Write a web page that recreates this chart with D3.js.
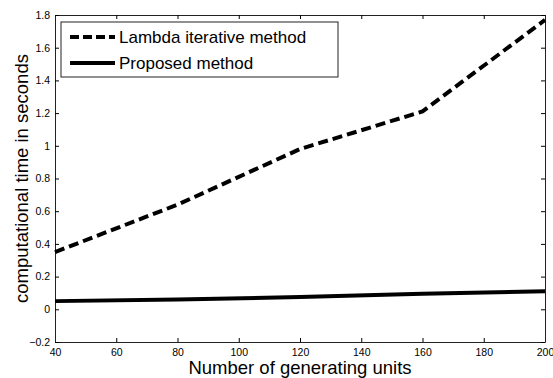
<!DOCTYPE html>
<html>
<head>
<meta charset="utf-8">
<script src="https://cdn.jsdelivr.net/npm/d3@7"></script>
<style>
  body { margin: 0; background: #fff; }
  svg { font-family: "Liberation Sans", Arial, sans-serif; }
</style>
</head>
<body>
<div id="chart"></div>
<script>
// data
const units = [40, 80, 120, 160, 200];
const lambdaTime = [0.35, 0.64, 0.98, 1.21, 1.77];
const proposedTime = [0.05, 0.06, 0.075, 0.095, 0.11];
const xTicks = [40, 60, 80, 100, 120, 140, 160, 180, 200];
const yTicks = [-0.2, 0, 0.2, 0.4, 0.6, 0.8, 1, 1.2, 1.4, 1.6, 1.8];
const seriesNames = ["Lambda iterative method", "Proposed method"];

const width = 553, height = 378;
const margin = { top: 15, right: 8, bottom: 36, left: 55 };

const svg = d3.select("#chart").append("svg")
    .attr("width", width)
    .attr("height", height);

const x = d3.scaleLinear()
    .domain([40, 200])
    .range([margin.left, width - margin.right]);

const y = d3.scaleLinear()
    .domain([-0.2, 1.8])
    .range([height - margin.bottom, margin.top]);

const tickFmt = d => d3.format("~g")(d);

// axes, MATLAB style: ticks pointing inward on every side
svg.append("g")
    .attr("transform", `translate(0,${y(-0.2)})`)
    .call(d3.axisBottom(x).tickValues(xTicks).tickSize(-4).tickSizeOuter(0).tickPadding(7).tickFormat(tickFmt))
    .call(g => g.selectAll("text").attr("font-size", 10.5));

svg.append("g")
    .attr("transform", `translate(0,${y(1.8)})`)
    .call(d3.axisTop(x).tickValues(xTicks).tickSize(-4).tickSizeOuter(0).tickFormat(""));

svg.append("g")
    .attr("transform", `translate(${x(40)},0)`)
    .call(d3.axisLeft(y).tickValues(yTicks).tickSize(-4).tickSizeOuter(0).tickPadding(5).tickFormat(tickFmt))
    .call(g => g.selectAll("text").attr("font-size", 10.5));

svg.append("g")
    .attr("transform", `translate(${x(200)},0)`)
    .call(d3.axisRight(y).tickValues(yTicks).tickSize(-4).tickSizeOuter(0).tickFormat(""));

svg.selectAll(".domain").attr("stroke", "#222");

const line = d3.line()
    .x((d, i) => x(units[i]))
    .y(d => y(d));

svg.append("path")
    .datum(lambdaTime)
    .attr("fill", "none")
    .attr("stroke", "#000")
    .attr("stroke-width", 4)
    .attr("stroke-dasharray", "10,5")
    .attr("d", line);

svg.append("path")
    .datum(proposedTime)
    .attr("fill", "none")
    .attr("stroke", "#000")
    .attr("stroke-width", 4)
    .attr("d", line);

// legend
const legend = svg.append("g").attr("transform", "translate(61,22)");
legend.append("rect")
    .attr("width", 277)
    .attr("height", 55)
    .attr("fill", "#fff")
    .attr("stroke", "#222")
    .attr("stroke-width", 1);

seriesNames.forEach((name, i) => {
    const row = legend.append("g").attr("transform", `translate(0,${15 + i * 26})`);
    row.append("line")
        .attr("x1", 9).attr("x2", 54)
        .attr("stroke", "#000")
        .attr("stroke-width", 4)
        .attr("stroke-dasharray", i === 0 ? "9,4" : null);
    row.append("text")
        .attr("x", 58)
        .attr("dy", "0.35em")
        .attr("font-size", 17)
        .text(name);
});

// axis titles
svg.append("text")
    .attr("x", (margin.left + width - margin.right) / 2)
    .attr("y", 374)
    .attr("text-anchor", "middle")
    .attr("font-size", 18.5)
    .text("Number of generating units");

svg.append("text")
    .attr("transform", `translate(28,${(margin.top + height - margin.bottom) / 2}) rotate(-90)`)
    .attr("text-anchor", "middle")
    .attr("font-size", 18.5)
    .text("computational time in seconds");
</script>
</body>
</html>
